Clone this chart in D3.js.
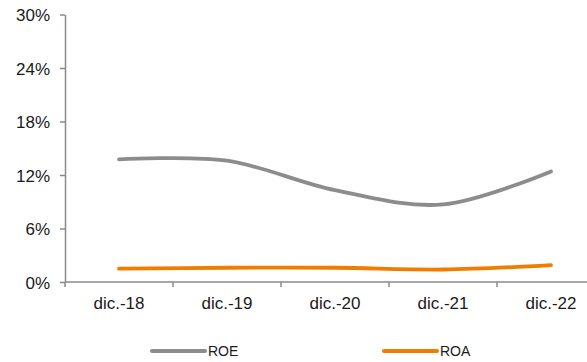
<!DOCTYPE html>
<html>
<head>
<meta charset="utf-8">
<script src="https://cdn.jsdelivr.net/npm/d3@7"></script>
<style>
  html, body { margin: 0; padding: 0; background: #fff; }
  svg { display: block; font-family: "Liberation Sans", Arial, sans-serif; }
</style>
</head>
<body>
<svg id="chart" width="587" height="362"></svg>
<script>
// Period labels and ratios (in %)
const categories = ["dic.-18", "dic.-19", "dic.-20", "dic.-21", "dic.-22"];
const roe = [13.75, 13.6, 10.3, 8.7, 12.4];
const roa = [1.5, 1.6, 1.6, 1.4, 1.9];
const yTicks = [0, 6, 12, 18, 24, 30];
const seriesNames = ["ROE", "ROA"];
const seriesColors = ["#8c8c8c", "#f07d00"];

const svg = d3.select("#chart");
const axisColor = "#8a8a8a";

const x = d3.scaleBand().domain(categories).range([65, 605]);
const y = d3.scaleLinear().domain([0, 30]).range([282, 14.5]);

// Y axis
const yAxis = svg.append("g").attr("transform", "translate(65,0)")
  .call(d3.axisLeft(y).tickValues(yTicks).tickSize(5).tickSizeOuter(0)
    .tickFormat(d => d + "%"));
yAxis.select(".domain").attr("stroke", axisColor).attr("stroke-width", 1.5);
yAxis.selectAll(".tick line").attr("stroke", axisColor).attr("stroke-width", 1.5);
yAxis.selectAll(".tick text")
  .attr("x", -15).attr("dy", "0.36em")
  .attr("fill", "#1a1a1a").style("font-size", "17px")
  .style("font-family", "'Liberation Sans', Arial, sans-serif");

// X axis: ticks at the band boundaries, labels centred in each band
const xg = svg.append("g").attr("transform", "translate(0,282)");
xg.append("line").attr("x1", 65).attr("x2", 605)
  .attr("stroke", axisColor).attr("stroke-width", 1.5);
xg.selectAll("line.tk").data(categories).enter().append("line")
  .attr("class", "tk")
  .attr("x1", d => x(d)).attr("x2", d => x(d))
  .attr("y1", 0).attr("y2", 5)
  .attr("stroke", axisColor).attr("stroke-width", 1.5);
xg.selectAll("text").data(categories).enter().append("text")
  .attr("x", d => x(d) + x.bandwidth() / 2)
  .attr("y", 26.5)
  .attr("text-anchor", "middle")
  .attr("fill", "#1a1a1a").style("font-size", "17px")
  .text(d => d);

// Smoothed lines
const line = d3.line()
  .x((d, i) => x(categories[i]) + x.bandwidth() / 2)
  .y(d => y(d))
  .curve(d3.curveCardinal.tension(0));

[roe, roa].forEach((vals, k) => {
  svg.append("path").datum(vals)
    .attr("d", line)
    .attr("fill", "none")
    .attr("stroke", seriesColors[k])
    .attr("stroke-width", 3.8)
    .attr("stroke-linecap", "round");
});

// Legend
const legendX = [152, 384];
seriesNames.forEach((name, k) => {
  const g = svg.append("g").attr("transform", `translate(${legendX[k]},351)`);
  g.append("line").attr("x1", 0).attr("x2", 53).attr("y1", 0).attr("y2", 0)
    .attr("stroke", seriesColors[k]).attr("stroke-width", 4)
    .attr("stroke-linecap", "round");
  g.append("text").attr("x", 56).attr("y", 5)
    .attr("fill", "#1a1a1a").style("font-size", "14px")
    .text(name);
});
</script>
</body>
</html>
